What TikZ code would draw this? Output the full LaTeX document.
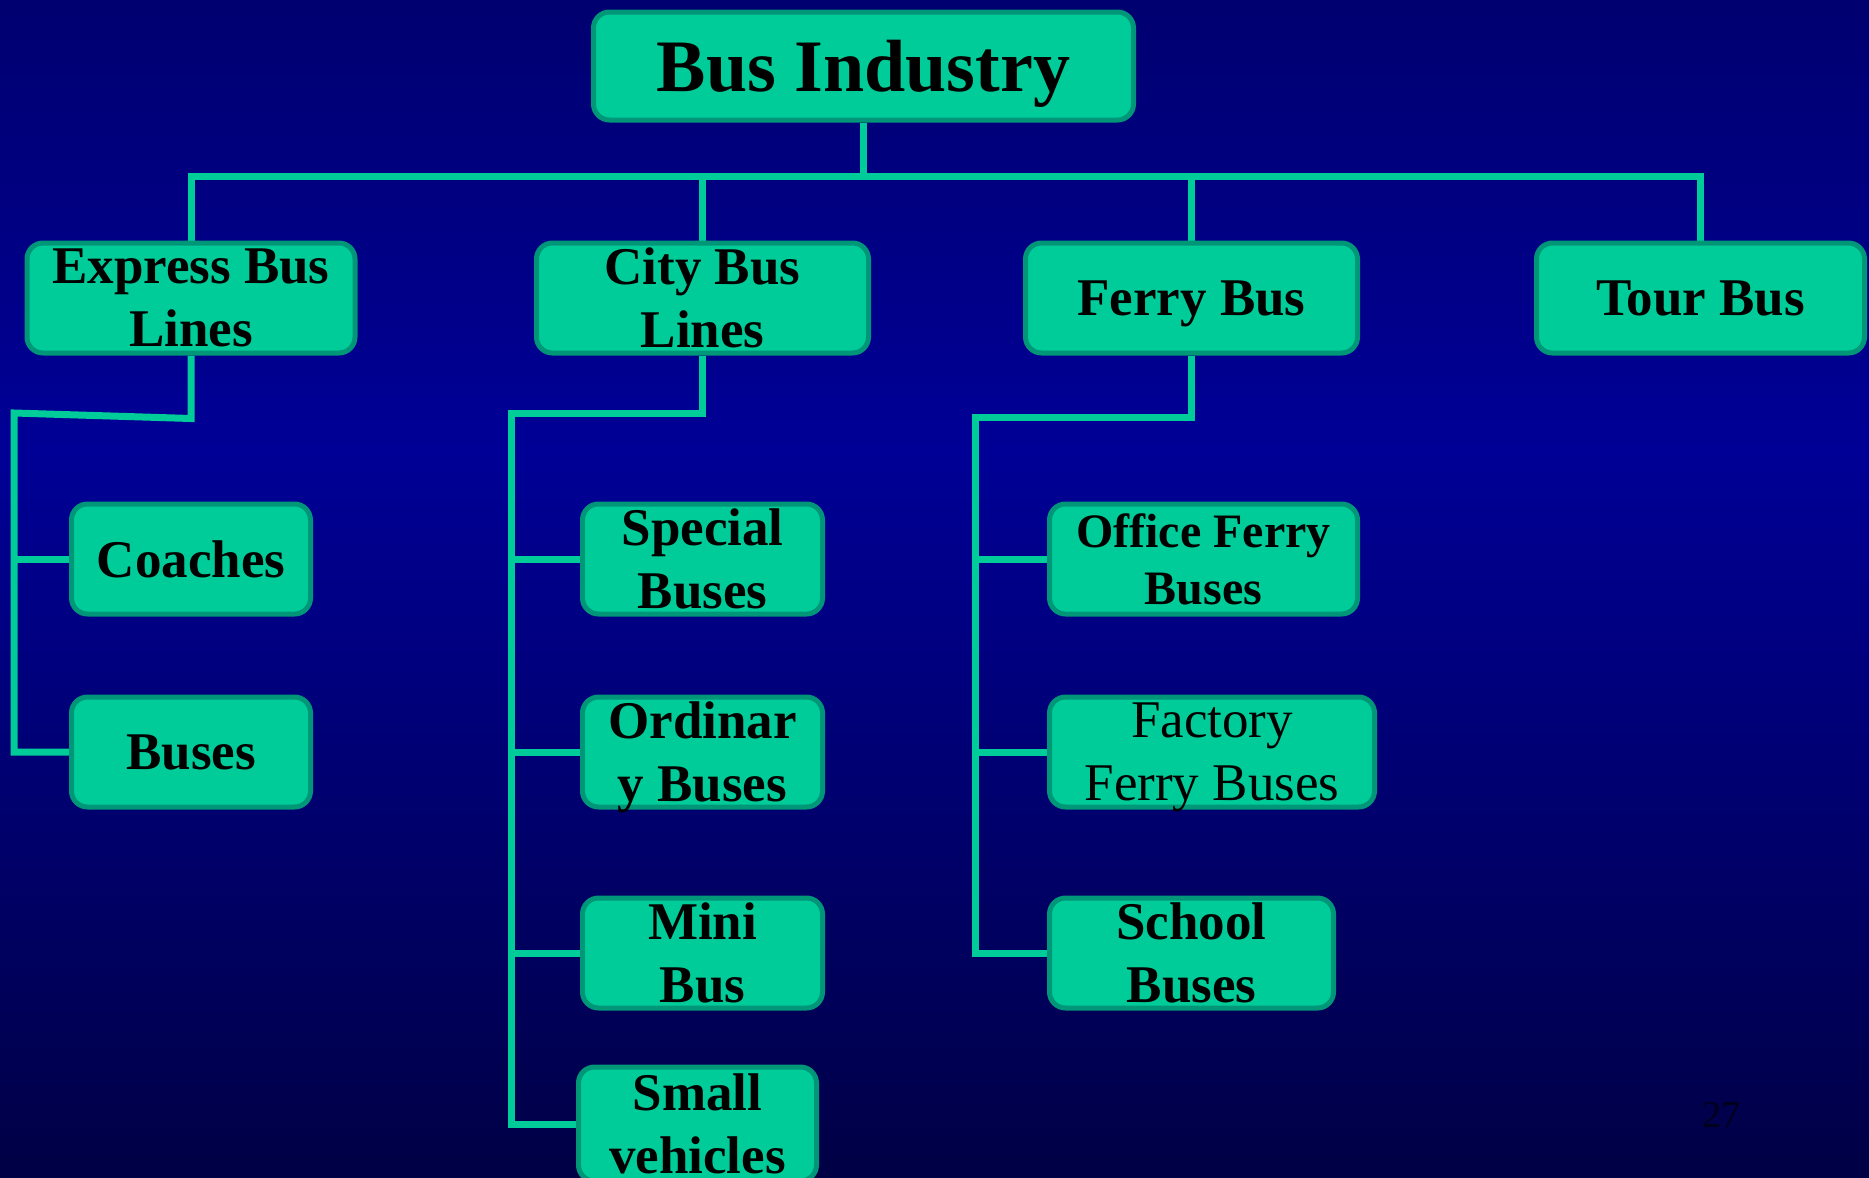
\documentclass[tikz,border=0pt]{standalone}
\usepackage{fontspec}
\setmainfont{Liberation Serif}
\definecolor{busgreen}{HTML}{00CC99}
\definecolor{busedge}{HTML}{009678}
\definecolor{bgtop}{HTML}{000070}
\definecolor{bgmid}{HTML}{000096}
\definecolor{bgbot}{HTML}{000045}
\definecolor{pagenum}{HTML}{00001C}
\pgfdeclarelayer{bg}
\pgfdeclarelayer{links}
\pgfsetlayers{bg,links,main}

\begin{document}
\begin{tikzpicture}[x=1pt,y=-1pt,
  box/.style={draw=busedge, fill=busgreen, line width=5pt, rounded corners=16pt,
    inner sep=0pt, align=center, minimum height=110pt,
    font=\bfseries\fontsize{53}{63}\selectfont},
  link/.style={draw=busgreen, line width=7pt}]
  \useasboundingbox (0,0) rectangle (1869,1178);

  % top level
  \node [box, minimum width=540pt, minimum height=108pt, font=\bfseries\fontsize{74}{80}\selectfont] (industry) at (863.5,66) {Bus Industr\smash{y}};

  % bus types
  \node [box, minimum width=328pt] (express) at (191,298) {Express Bus\\Lines};
  \node [box, minimum width=332pt] (city) at (702.5,298) {City Bus\\Lines};
  \node [box, minimum width=332pt] (ferry) at (1191.5,298) {Ferr\smash{y} Bus};
  \node [box, minimum width=328pt] (tour) at (1700.5,298) {Tour Bus};

  % express bus lines
  \node [box, minimum width=239pt] (coaches) at (191,559) {Coaches};
  \node [box, minimum width=239pt] (buses) at (191,752) {Buses};

  % city bus lines
  \node [box, minimum width=240pt] (special) at (702.5,559) {Special\\Buses};
  \node [box, minimum width=240pt] (ordinary) at (702.5,752) {Ordinar\\\smash{y} Buses};
  \node [box, minimum width=240pt] (mini) at (702.5,953) {Mini\\Bus};
  \node [box, minimum width=238pt, minimum height=114pt] (small) at (697.5,1124) {Small\\vehicles};

  % ferry bus
  \node [box, minimum width=308pt, font=\bfseries\fontsize{48}{57}\selectfont] (office) at (1203.5,559) {Office Ferry\\Buses};
  \node [box, minimum width=325pt, font=\fontsize{53}{63}\selectfont] (factory) at (1212,752) {Factory\\Ferr\smash{y} Buses};
  \node [box, minimum width=284pt] (school) at (1191.5,953) {School\\Buses};

  \node [font=\fontsize{38}{40}\selectfont, text=pagenum] (pageno) at (1721,1115) {27};

  \begin{pgfonlayer}{bg}
    \fill [top color=bgtop, bottom color=bgmid] (0,0) rectangle (1869,450);
    \fill [top color=bgmid, bottom color=bgbot] (0,449) rectangle (1869,1178);
  \end{pgfonlayer}

  \begin{pgfonlayer}{links}
    \coordinate (trunk) at (863.5,176);
    \draw [link] (industry.south) -- (trunk);
    \draw [link] (express.north) |- (tour.north |- trunk) -- (tour.north);
    \draw [link] (city.north) -- (city.north |- trunk);
    \draw [link] (ferry.north) -- (ferry.north |- trunk);

    \coordinate (exturn) at (14,413);
    \draw [link] (express.south) -- ++(0,63) -- (exturn) |- (buses.west);
    \draw [link] (exturn |- coaches.west) -- (coaches.west);

    \coordinate (cityturn) at (511,413);
    \draw [link] (city.south) |- (cityturn) |- (small.west);
    \foreach \n in {special,ordinary,mini}
      \draw [link] (cityturn |- \n.west) -- (\n.west);

    \coordinate (ferryturn) at (975,417);
    \draw [link] (ferry.south) |- (ferryturn) |- (school.west);
    \foreach \n in {office,factory}
      \draw [link] (ferryturn |- \n.west) -- (\n.west);
  \end{pgfonlayer}
\end{tikzpicture}
\end{document}
